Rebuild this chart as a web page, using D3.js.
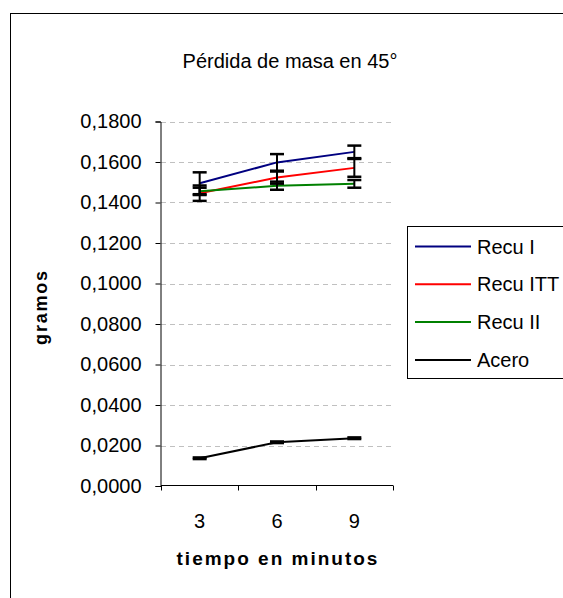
<!DOCTYPE html>
<html>
<head>
<meta charset="utf-8">
<script src="https://cdn.jsdelivr.net/npm/d3@7"></script>
<style>
  html, body { margin: 0; padding: 0; background: #fff; }
  svg { display: block; }
  text { font-family: "Liberation Sans", Arial, sans-serif; fill: #000; }
</style>
</head>
<body>
<script>
// Tiempos de ensayo (minutos)
const tiempos = ["3", "6", "9"];
// Nombres de las series
const series = ["Recu I", "Recu ITT", "Recu II", "Acero"];
const colores = ["#000080", "#ff0000", "#008000", "#000000"];
// Pérdida de masa media (g) por serie y tiempo
const recuI   = [0.1495, 0.1598, 0.1650];
const recuITT = [0.1446, 0.1523, 0.1571];
const recuII  = [0.1455, 0.1483, 0.1492];
const acero   = [0.0137, 0.0216, 0.0236];
// Desviaciones (barras de error)
const errRecuI   = [0.0054, 0.0041, 0.0031];
const errRecuITT = [0.0038, 0.0030, 0.0044];
const errRecuII  = [0.0018, 0.0020, 0.0019];
const errAcero   = [0.0004, 0.0004, 0.0004];
// Marcas del eje de ordenadas
const yTicks = [0, 0.02, 0.04, 0.06, 0.08, 0.10, 0.12, 0.14, 0.16, 0.18];

const valores = [recuI, recuITT, recuII, acero];
const errores = [errRecuI, errRecuITT, errRecuII, errAcero];

const W = 563, H = 598;
const svg = d3.select("body").append("svg").attr("width", W).attr("height", H);

// Marco exterior del gráfico
svg.append("rect")
  .attr("x", 10.5).attr("y", 13.5)
  .attr("width", 600).attr("height", 620)
  .attr("fill", "#fff").attr("stroke", "#000").attr("stroke-width", 1);

const x = d3.scaleBand().domain(tiempos).range([161, 393]);
const y = d3.scaleLinear().domain([0, 0.18]).range([486, 121.5]);
const cx = t => x(t) + x.bandwidth() / 2;

// Título
svg.append("text")
  .attr("x", 290).attr("y", 68)
  .attr("text-anchor", "middle")
  .style("font-size", "20px")
  .text("Pérdida de masa en 45°");

// Líneas de cuadrícula
svg.append("g")
  .selectAll("line")
  .data(yTicks.filter(d => d > 0))
  .join("line")
  .attr("x1", 161).attr("x2", 393)
  .attr("y1", d => Math.round(y(d)) + 0.5).attr("y2", d => Math.round(y(d)) + 0.5)
  .attr("stroke", "#c0c0c0").attr("stroke-dasharray", "5,4");

// Eje Y
const fmt = d => d.toFixed(4).replace(".", ",");
const gy = svg.append("g")
  .attr("transform", "translate(160.5,0)")
  .call(d3.axisLeft(y).tickValues(yTicks).tickFormat(fmt).tickSize(5).tickPadding(14));
gy.select(".domain").attr("stroke", "#000");
gy.selectAll(".tick line").attr("stroke", "#000");
gy.selectAll(".tick text")
  .style("font-size", "20px")
  .style("font-family", "'Liberation Sans', Arial, sans-serif");

// Eje X
const gx = svg.append("g")
  .attr("transform", "translate(0,485.5)")
  .call(d3.axisBottom(x).tickSize(0).tickPadding(28));
gx.select(".domain").attr("stroke", "#000").attr("d", "M161,0H393");
gx.selectAll(".tick text")
  .style("font-size", "20px")
  .style("font-family", "'Liberation Sans', Arial, sans-serif");
// Marcas entre categorías
const bordes = [161].concat(tiempos.map(t => x(t) + x.bandwidth()));
gx.append("g").selectAll("line")
  .data(bordes)
  .join("line")
  .attr("x1", d => Math.round(d) + 0.5).attr("x2", d => Math.round(d) + 0.5)
  .attr("y1", 0).attr("y2", 5)
  .attr("stroke", "#000");

// Títulos de ejes
svg.append("text")
  .attr("transform", "translate(47,307) rotate(-90)")
  .attr("text-anchor", "middle")
  .style("font-size", "18px").style("font-weight", "bold")
  .style("letter-spacing", "1.8px")
  .text("gramos");

svg.append("text")
  .attr("x", 278).attr("y", 565)
  .attr("text-anchor", "middle")
  .style("font-size", "19px").style("font-weight", "bold")
  .style("letter-spacing", "2px")
  .text("tiempo en minutos");

// Series
const linea = d3.line().x((d, i) => cx(tiempos[i])).y(d => y(d));
const gs = svg.append("g");
valores.forEach((vals, s) => {
  gs.append("path")
    .datum(vals)
    .attr("d", linea)
    .attr("fill", "none")
    .attr("stroke", colores[s])
    .attr("stroke-width", 2);
});

// Barras de error
const ge = svg.append("g").attr("stroke", "#000");
valores.forEach((vals, s) => {
  vals.forEach((v, i) => {
    const px = cx(tiempos[i]);
    const e = errores[s][i];
    const y0 = y(v - e), y1 = y(v + e);
    ge.append("line").attr("x1", px).attr("x2", px).attr("y1", y0).attr("y2", y1).attr("stroke-width", 2);
    [y0, y1].forEach(yy => {
      ge.append("line").attr("x1", px - 7).attr("x2", px + 7).attr("y1", yy).attr("y2", yy).attr("stroke-width", 2.5);
    });
  });
});

// Leyenda
const lg = svg.append("g");
lg.append("rect")
  .attr("x", 407.5).attr("y", 226.5)
  .attr("width", 200).attr("height", 152)
  .attr("fill", "#fff").attr("stroke", "#000");
series.forEach((nombre, i) => {
  const yy = 246.5 + i * 37.8;
  lg.append("line")
    .attr("x1", 415).attr("x2", 471)
    .attr("y1", yy).attr("y2", yy)
    .attr("stroke", colores[i]).attr("stroke-width", 2);
  lg.append("text")
    .attr("x", 477).attr("y", yy + 7)
    .style("font-size", "20px")
    .text(nombre);
});
</script>
</body>
</html>
